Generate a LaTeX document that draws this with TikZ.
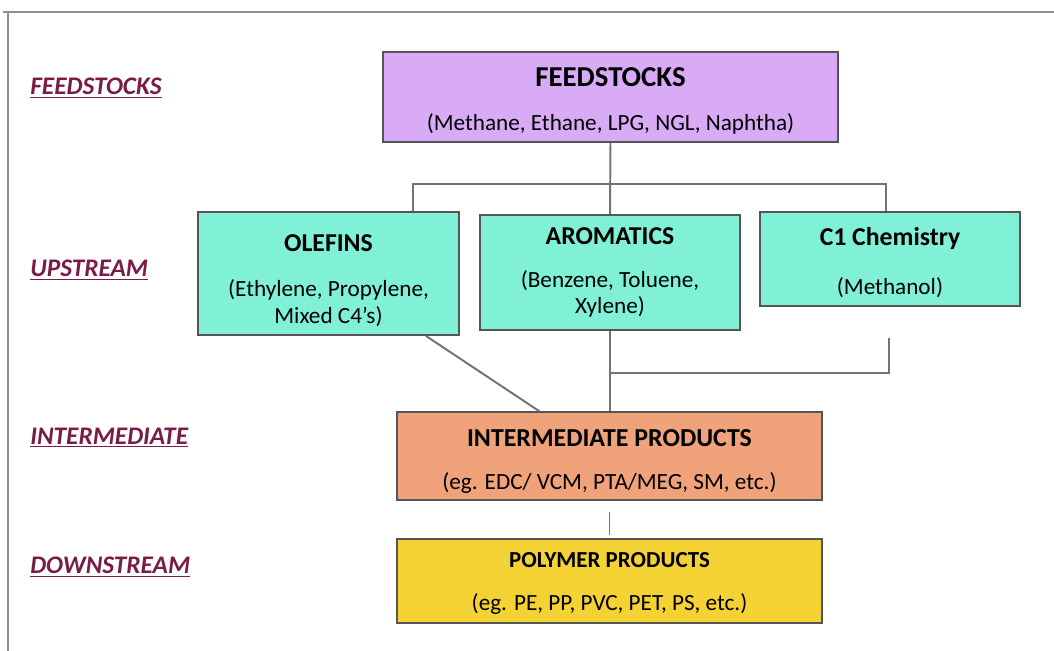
\documentclass[tikz,border=0pt]{standalone}
\usepackage{fontspec}
\setmainfont{Carlito}
\definecolor{feedfill}{RGB}{217,170,245}
\definecolor{upfill}{RGB}{128,240,214}
\definecolor{intfill}{RGB}{240,162,122}
\definecolor{polyfill}{RGB}{245,210,52}
\definecolor{boxline}{RGB}{85,85,85}
\definecolor{linkgray}{RGB}{115,115,115}
\definecolor{stagecol}{RGB}{122,28,72}
\newcommand{\ttl}{\bfseries\fontsize{18.3}{22}\selectfont}
\newcommand{\subtxt}{\mdseries\fontsize{16.5}{20}\selectfont}
\newcommand{\lift}[1]{\rule{0pt}{#1}}

\begin{document}
\begin{tikzpicture}[x=0.025cm,y=-0.025cm,
		box/.style={draw=boxline,line width=1.1pt,align=center,inner sep=0pt},
		link/.style={draw=linkgray,line width=1.4pt},
		stage/.style={anchor=west,inner sep=0pt,text=stagecol,font=\bfseries\itshape\fontsize{18}{21}\selectfont}]
		\useasboundingbox (0,0) rectangle (1054,651);
		\draw[linkgray!80,line width=1.5pt] (3,12) -- (1054,12);
		\draw[linkgray!80,line width=1.5pt] (8,12) -- (8,651);
		% stage labels
		\node[stage] (lfeed) at (30,88) {\underline{FEEDSTOCKS}};
		\node[stage] (lup) at (30,270) {\underline{UPSTREAM}};
		\node[stage] (lint) at (30,438) {\underline{INTERMEDIATE}};
		\node[stage] (ldown) at (30,567) {\underline{DOWNSTREAM}};
		% boxes
		\node[box,fill=feedfill,minimum width=11.38cm,minimum height=2.25cm] (feed) at (610.5,97)
			{\bfseries\fontsize{20.5}{24}\selectfont\lift{19.4pt}FEEDSTOCKS\\[18pt]\subtxt (Methane, Ethane, LPG, NGL, Naphtha)};
		\node[box,fill=upfill,minimum width=6.53cm,minimum height=3.08cm] (ole) at (328.5,273.5)
			{\ttl\lift{22.2pt}OLEFINS\\[19pt]\subtxt (Ethylene, Propylene,\\[3pt]\subtxt Mixed C4's)};
		\node[box,fill=upfill,minimum width=6.5cm,minimum height=2.88cm] (aro) at (610,272.5)
			{\ttl AROMATICS\\[17.5pt]\subtxt (Benzene, Toluene,\\[3.3pt]\subtxt Xylene)};
		\node[box,fill=upfill,minimum width=6.5cm,minimum height=2.35cm] (c1) at (890,259)
			{\ttl\lift{18pt}C1 Chemistry\\[18.5pt]\subtxt (Methanol)};
		\node[box,fill=intfill,minimum width=10.63cm,minimum height=2.2cm] (int) at (609.5,456)
			{\bfseries\fontsize{18.4}{22}\selectfont\lift{19.4pt}INTERMEDIATE PRODUCTS\\[17.5pt]\subtxt (eg. EDC/ VCM, PTA/MEG, SM, etc.)};
		\node[box,fill=polyfill,minimum width=10.63cm,minimum height=2.1cm] (poly) at (609.5,581)
			{\bfseries\fontsize{16.3}{20}\selectfont\lift{14.5pt}POLYMER PRODUCTS\\[17pt]\subtxt (eg. PE, PP, PVC, PET, PS, etc.)};
		% connectors
		\coordinate (busL) at (413,184);
		\coordinate (busR) at (886,184);
		\coordinate (c1drop) at (889,338);
		\coordinate (join) at (610,373);
		\draw[link] (feed.south) -- (aro.north);
		\draw[link] (busL |- ole.north) -- (busL) -- (busR) -- (busR |- c1.north);
		\draw[link] ([xshift=-0.85cm]ole.south east) -- ([xshift=3.58cm]int.north west);
		\draw[link] (aro.south) -- (aro.south |- int.north);
		\draw[link] (c1drop) |- (join);
		\draw[link] ([yshift=-0.28cm]int.south) -- ([yshift=0.08cm]poly.north);
	\end{tikzpicture}
\end{document}
